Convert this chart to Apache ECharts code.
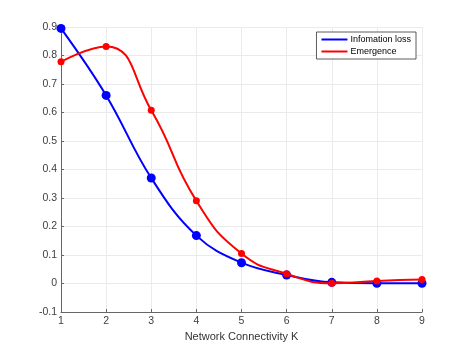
<!DOCTYPE html>
<html><head><meta charset="utf-8">
<script src="https://cdn.jsdelivr.net/npm/echarts@6/dist/echarts.min.js"></script>
<style>html,body{margin:0;padding:0;background:#fff}#c{width:467px;height:350px}</style>
</head><body><div id="c"></div>
<script>
const kValues = [1, 2, 3, 4, 5, 6, 7, 8, 9];
const infoLoss = [0.895, 0.66, 0.37, 0.168, 0.073, 0.03, 0.004, 0.001, 0.001];
const emergence = [0.778, 0.832, 0.608, 0.29, 0.105, 0.034, 0.001, 0.009, 0.014];
const seriesNames = ['Infomation loss', 'Emergence'];
const xTitle = 'Network Connectivity K';

const chart = echarts.init(document.getElementById('c'));
const font = 'Liberation Sans, Arial, sans-serif';
chart.setOption({
  animation: false,
  grid: {left: 61, right: 45, top: 27, bottom: 38},
  legend: {
    data: seriesNames, orient: 'vertical', right: 51, top: 32,
    itemWidth: 26, itemHeight: 2, itemGap: 3,
    icon: 'rect',
    borderColor: '#333', borderWidth: 0.8, padding: [3, 5, 3, 5],
    backgroundColor: '#fff',
    textStyle: {fontSize: 9, fontFamily: font, color: '#000', padding: [0,0,0,-2]}
  },
  xAxis: {
    type: 'value', min: 1, max: 9, interval: 1,
    name: xTitle, nameLocation: 'middle', nameGap: 16,
    nameTextStyle: {fontSize: 11, fontFamily: font, color: '#333'},
    axisLine: {onZero: false, lineStyle: {color: '#666', width: 1}},
    axisTick: {inside: true, length: 3, lineStyle: {color: '#666'}},
    axisLabel: {fontSize: 10.5, fontFamily: font, color: '#404040', margin: 4},
    splitLine: {show: true, lineStyle: {color: '#ebebeb', width: 1}}
  },
  yAxis: {
    type: 'value', min: -0.1, max: 0.9, interval: 0.1,
    axisLine: {show: true, onZero: false, lineStyle: {color: '#666', width: 1}},
    axisTick: {show: true, inside: true, length: 3, lineStyle: {color: '#666'}},
    axisLabel: {fontSize: 10.5, fontFamily: font, color: '#404040', margin: 4,
      formatter: v => { const r = Math.round(v*10)/10; return r === 0 ? '0' : String(r); }},
    splitLine: {show: true, lineStyle: {color: '#ebebeb', width: 1}}
  },
  series: [
    {
      name: seriesNames[0], type: 'line', smooth: 0.4,
      data: kValues.map((k, i) => [k, infoLoss[i]]),
      symbol: 'circle', symbolSize: 9,
      itemStyle: {color: '#0000ff'},
      lineStyle: {color: '#0000ff', width: 2},
      z: 2
    },
    {
      name: seriesNames[1], type: 'line', smooth: 0.5,
      data: kValues.map((k, i) => [k, emergence[i]]),
      symbol: 'circle', symbolSize: 7,
      itemStyle: {color: '#ff0000'},
      lineStyle: {color: '#ff0000', width: 2},
      z: 3
    }
  ]
});
</script>
</body></html>
